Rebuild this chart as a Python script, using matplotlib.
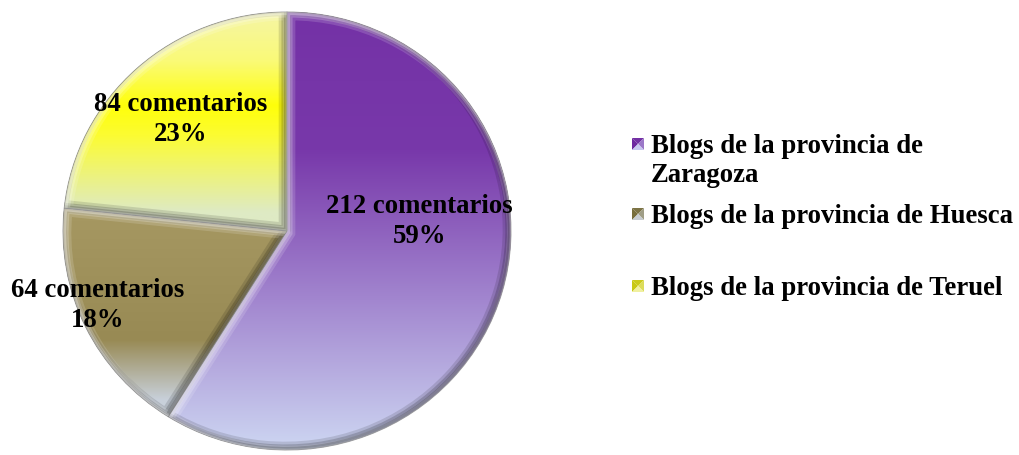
import numpy as np
import matplotlib
matplotlib.use('Agg')
import matplotlib.pyplot as plt
from matplotlib.patches import PathPatch, Rectangle, Polygon
import matplotlib.transforms as mtransforms

# ---------------- data ----------------
categories = ['Blogs de la provincia de Zaragoza',
              'Blogs de la provincia de Huesca',
              'Blogs de la provincia de Teruel']
comentarios = [212, 64, 84]
percent_labels = ['59%', '18%', '23%']
legend_labels = ['Blogs de la provincia de\nZaragoza',
                 'Blogs de la provincia de Huesca',
                 'Blogs de la provincia de Teruel']

# ---------------- style ----------------
W, H = 1019, 455
FONT = 'Liberation Serif'
FS = 19.3
# gradient stops per wedge: (pixel y, rgb)
grad_stops = [
    [(12, (116, 50, 166)), (150, (120, 56, 170)), (300, (162, 134, 207)), (450, (205, 214, 242))],
    [(212, (166, 152, 98)), (340, (152, 138, 84)), (400, (200, 208, 218))],
    [(12, (245, 245, 165)), (60, (250, 250, 120)), (105, (255, 255, 10)), (135, (252, 252, 50)), (212, (222, 234, 196))],
]
legend_top = [(110, 40, 160), (120, 110, 60), (200, 200, 20)]
legend_bottom = [(200, 200, 240), (200, 205, 210), (240, 240, 160)]
# label placement (pixel center x, baseline of first line)
label_pos = [(419.5, 213), (97.5, 297), (181, 111)]
label_step = 30
legend_text_x = 651
legend_marker_x = 632
legend_baselines = [153, 223, 295]
legend_line_step = 29

fig = plt.figure(figsize=(W / 100, H / 100), dpi=100)
fig.patch.set_facecolor('white')

px0, px1, py0, py1 = 63, 511, 12, 450
ax = fig.add_axes([px0 / W, 1 - py1 / H, (px1 - px0) / W, (py1 - py0) / H])
wedges, _ = ax.pie(comentarios, startangle=90, counterclock=False, radius=1,
                   wedgeprops=dict(facecolor='none', edgecolor=(0.4, 0.4, 0.4, 0.6),
                                   linewidth=0.7, zorder=2))

N = 400
rows_py = np.linspace(py0, py1, N)
for w, stops in zip(wedges, grad_stops):
    sy = [s[0] for s in stops]
    img = np.zeros((N, 1, 3))
    for c in range(3):
        img[:, 0, c] = np.interp(rows_py, sy, [s[1][c] / 255 for s in stops])
    im = ax.imshow(img, extent=[-1, 1, -1, 1], origin='upper', aspect='auto',
                   interpolation='bilinear', zorder=1)
    im.set_clip_path(w)
    # bevel: inner shadow (bottom-right) and highlight (top-left)
    for (dx, dy, col, alpha, lw) in [(-1.5, 1.5, 'black', 0.12, 9), (-1.5, 1.5, 'black', 0.17, 5),
                                     (-1, 1, 'black', 0.22, 2.5),
                                     (1.5, -1.5, 'white', 0.15, 9), (1.5, -1.5, 'white', 0.22, 5),
                                     (1, -1, 'white', 0.3, 2.5)]:
        tr = w.get_transform() + mtransforms.ScaledTranslation(dx / 72, dy / 72, fig.dpi_scale_trans)
        pp = PathPatch(w.get_path(), transform=tr, facecolor='none', edgecolor=col,
                       alpha=alpha, linewidth=lw, zorder=3, joinstyle='miter')
        ax.add_patch(pp)
        pp.set_clip_path(w)

ax.set_aspect('auto')
ax.set_xlim(-1, 1)
ax.set_ylim(-1, 1)
ax.axis('off')

# overlay in pixel coordinates for text and legend
ov = fig.add_axes([0, 0, 1, 1], facecolor='none')
ov.set_xlim(0, W)
ov.set_ylim(H, 0)
ov.axis('off')

for n, pct, (x, y) in zip(comentarios, percent_labels, label_pos):
    ov.text(x, y, f'{n} comentarios', ha='center', va='baseline', fontfamily=FONT,
            fontweight='bold', fontsize=FS, color='black')
    ov.text(x, y + label_step, pct, ha='center', va='baseline', fontfamily=FONT,
            fontweight='bold', fontsize=FS, color='black')

ms = 12
for lab, ctop, cbot, yb in zip(legend_labels, legend_top, legend_bottom, legend_baselines):
    lines = lab.split('\n')
    for k, line in enumerate(lines):
        ov.text(legend_text_x, yb + k * legend_line_step, line, ha='left', va='baseline',
                fontfamily=FONT, fontweight='bold', fontsize=FS, color='black')
    cy = yb - 9
    x0, y0 = legend_marker_x, cy - ms / 2
    top = np.array(ctop) / 255
    bot = np.array(cbot) / 255
    mid = (top + bot) / 2
    xc, yc = x0 + ms / 2, y0 + ms / 2
    # top, left, right, bottom facets (y grows downward here)
    ov.add_patch(Polygon([(x0, y0), (x0 + ms, y0), (xc, yc)], facecolor=top * 0.9 + 0.1 * mid, edgecolor='none'))
    ov.add_patch(Polygon([(x0, y0), (xc, yc), (x0, y0 + ms)], facecolor=top, edgecolor='none'))
    ov.add_patch(Polygon([(x0 + ms, y0), (xc, yc), (x0 + ms, y0 + ms)], facecolor=mid, edgecolor='none'))
    ov.add_patch(Polygon([(x0, y0 + ms), (xc, yc), (x0 + ms, y0 + ms)], facecolor=bot, edgecolor='none'))

fig.savefig('out.png', dpi=100, facecolor='white')
